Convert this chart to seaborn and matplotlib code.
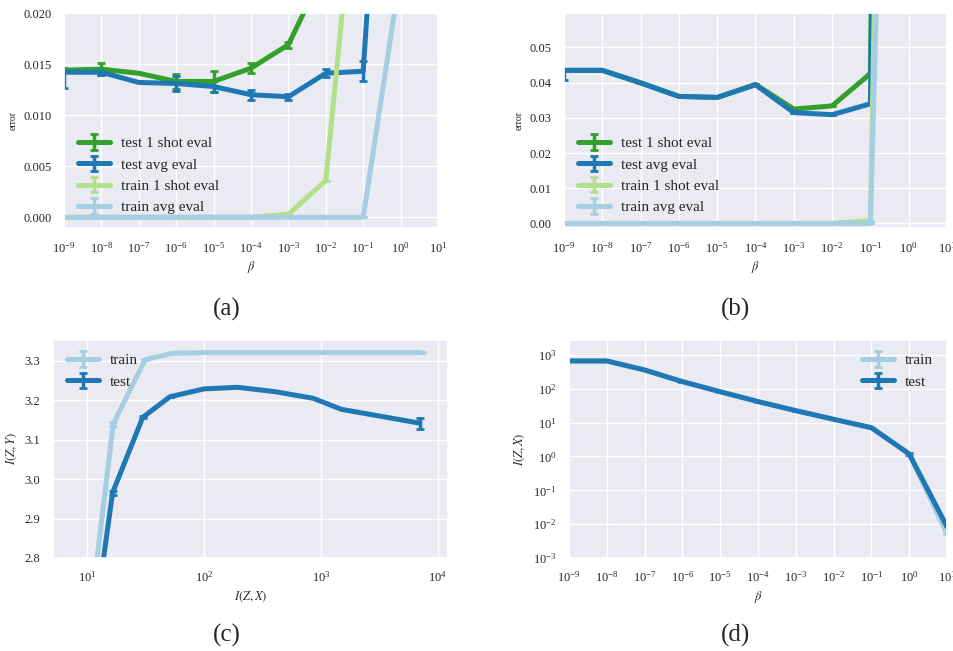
import numpy as np
import pandas as pd
import seaborn as sns
import matplotlib
matplotlib.use("Agg")
import matplotlib.pyplot as plt
from matplotlib.ticker import LogLocator, NullLocator, MultipleLocator, FormatStrFormatter

# ---------------- data ----------------
beta = [1e-9, 1e-8, 1e-7, 1e-6, 1e-5, 1e-4, 1e-3, 1e-2, 1e-1, 1e0, 1e1]

# panel (a)
a_test1 = [0.0144, 0.0145, 0.0141, 0.0133, 0.0133, 0.0146, 0.0169, 0.0245, 0.060, 0.50, 0.90]
a_test1_err = [0.0, 0.0006, 0.0, 0.0007, 0.0010, 0.0005, 0.0003, 0.0, 0.0, 0.0, 0.0]
a_testavg = [0.0142, 0.0142, 0.0132, 0.0131, 0.0128, 0.0120, 0.0118, 0.0141, 0.0143, 0.070, 0.90]
a_testavg_lo = [0.0015, 0.0003, 0.0, 0.0007, 0.0005, 0.0005, 0.0003, 0.0004, 0.0010, 0.0, 0.0]
a_testavg_hi = [0.0004, 0.0003, 0.0, 0.0007, 0.0005, 0.0005, 0.0003, 0.0004, 0.0010, 0.0, 0.0]
a_train1 = [0.0, 0.0, 0.0, 0.0, 0.0, 0.0, 0.0003, 0.0036, 0.041, 0.50, 0.90]
a_trainavg = [0.0, 0.0, 0.0, 0.0, 0.0, 0.0, 0.0, 0.0, 0.0, 0.024, 0.90]
zero11 = [0.0] * 11

# panel (b)
b_test1 = [0.0435, 0.0435, 0.0400, 0.0361, 0.0358, 0.0395, 0.0325, 0.0334, 0.0426, 0.90, 0.90]
b_testavg = [0.0435, 0.0435, 0.0399, 0.0361, 0.0358, 0.0394, 0.0315, 0.0309, 0.0340, 0.90, 0.90]
b_testavg_lo = [0.0026, 0.0, 0.0, 0.0, 0.0, 0.0, 0.0, 0.0, 0.0, 0.0, 0.0]
b_testavg_hi = [0.0002, 0.0, 0.0, 0.0, 0.0, 0.0, 0.0, 0.0, 0.0, 0.0, 0.0]
b_train1 = [0.0, 0.0, 0.0, 0.0, 0.0, 0.0, 0.0, 0.0, 0.0008, 0.60, 0.90]
b_trainavg = [0.0, 0.0, 0.0, 0.0, 0.0, 0.0, 0.0, 0.0, 0.0, 0.40, 0.90]

# panel (c)
c_train_x = [10, 16.7, 31.3, 53, 100, 193, 404, 860, 1500, 7250]
c_train_y = [2.59, 3.14, 3.303, 3.319, 3.321, 3.321, 3.321, 3.321, 3.321, 3.321]
c_train_err = [0.0, 0.004, 0.002, 0.0, 0.0, 0.0, 0.0, 0.0, 0.0, 0.002]
c_test_x = [10, 16.5, 29.9, 51, 100, 193, 404, 860, 1500, 7000]
c_test_y = [2.50, 2.966, 3.157, 3.209, 3.229, 3.233, 3.222, 3.205, 3.177, 3.142]
c_test_err = [0.0, 0.005, 0.003, 0.0, 0.0, 0.0, 0.0, 0.0, 0.0, 0.014]

# panel (d)
d_train = [665, 665, 360, 163, 82, 42, 22.6, 12.6, 7.1, 1.19, 0.0051]
d_test = [665, 665, 360, 163, 82, 42, 22.6, 12.6, 7.1, 1.19, 0.0084]
d_test_err = [0, 0, 0, 0, 0, 0, 0, 0, 0, 0.1, 0.001]

# ---------------- style ----------------
sns.set_theme(style="darkgrid")
plt.rcParams["font.family"] = ["Liberation Serif", "DejaVu Serif"]
plt.rcParams["mathtext.fontset"] = "stix"

pal = sns.color_palette("Paired")
c_lblue, c_dblue, c_lgreen, c_dgreen = pal[0], pal[1], pal[2], pal[3]

fig = plt.figure(figsize=(9.54, 6.51), dpi=100)


def px_axes(l, t, r, b):
    return fig.add_axes([l / 954, 1 - b / 651, (r - l) / 954, (b - t) / 651])


axA = px_axes(64, 13, 438, 228)
axB = px_axes(564, 13, 947, 228)
axC = px_axes(53, 340, 448, 558)
axD = px_axes(569, 340, 947, 558)

LW = 3.6
EKW = dict(elinewidth=2.5, capsize=3, capthick=2)


def eb(ax, x, y, err, color, label):
    ax.errorbar(x, y, yerr=err, color=color, lw=LW, label=label, **EKW)


def log_x(ax):
    ax.set_xscale("log")
    ax.xaxis.set_major_locator(LogLocator(base=10, numticks=30))
    ax.xaxis.set_minor_locator(NullLocator())


TICK = 9
LAB = 9
LEG = 11
LEGKW = dict(fontsize=LEG, frameon=False, handlelength=2.1, handletextpad=0.7)

# (a)
eb(axA, beta, a_test1, a_test1_err, c_dgreen, "test 1 shot eval")
eb(axA, beta, a_testavg, [a_testavg_lo, a_testavg_hi], c_dblue, "test avg eval")
eb(axA, beta, a_train1, zero11, c_lgreen, "train 1 shot eval")
eb(axA, beta, a_trainavg, zero11, c_lblue, "train avg eval")
log_x(axA)
axA.set_xlim(1e-9, 1e1)
axA.set_ylim(-0.00105, 0.020)
axA.yaxis.set_major_locator(MultipleLocator(0.005))
axA.yaxis.set_major_formatter(FormatStrFormatter("%.3f"))
axA.set_xlabel(r"$\beta$", fontsize=LAB, labelpad=3)
axA.set_ylabel("error", fontsize=7)
axA.legend(loc="lower left", **LEGKW)

# (b)
eb(axB, beta, b_test1, zero11, c_dgreen, "test 1 shot eval")
eb(axB, beta, b_testavg, [b_testavg_lo, b_testavg_hi], c_dblue, "test avg eval")
eb(axB, beta, b_train1, zero11, c_lgreen, "train 1 shot eval")
eb(axB, beta, b_trainavg, zero11, c_lblue, "train avg eval")
log_x(axB)
axB.set_xlim(1e-9, 1e1)
axB.set_ylim(-0.0013, 0.0598)
axB.yaxis.set_major_locator(MultipleLocator(0.01))
axB.yaxis.set_major_formatter(FormatStrFormatter("%.2f"))
axB.set_xlabel(r"$\beta$", fontsize=LAB, labelpad=3)
axB.set_ylabel("error", fontsize=7)
axB.legend(loc="lower left", **LEGKW)

# (c)
eb(axC, c_train_x, c_train_y, c_train_err, c_lblue, "train")
eb(axC, c_test_x, c_test_y, c_test_err, c_dblue, "test")
log_x(axC)
axC.set_xlim(5.1, 12200)
axC.set_ylim(2.8, 3.353)
axC.yaxis.set_major_locator(MultipleLocator(0.1))
axC.yaxis.set_major_formatter(FormatStrFormatter("%.1f"))
axC.set_xlabel(r"$I(Z,X)$", fontsize=LAB, labelpad=3)
axC.set_ylabel(r"$I(Z,Y)$", fontsize=LAB)
axC.legend(loc="upper left", **LEGKW)

# (d)
eb(axD, beta, d_train, zero11, c_lblue, "train")
eb(axD, beta, d_test, d_test_err, c_dblue, "test")
log_x(axD)
axD.set_yscale("log")
axD.yaxis.set_major_locator(LogLocator(base=10, numticks=30))
axD.yaxis.set_minor_locator(NullLocator())
axD.set_xlim(1e-9, 1e1)
axD.set_ylim(1e-3, 2770)
axD.set_xlabel(r"$\beta$", fontsize=LAB, labelpad=3)
axD.set_ylabel(r"$I(Z,X)$", fontsize=LAB)
axD.legend(loc="upper right", **LEGKW)

for ax in (axA, axB, axC, axD):
    ax.tick_params(labelsize=TICK, pad=3)

fig.text(227 / 954, 1 - 309 / 651, "(a)", ha="center", va="center", fontsize=18)
fig.text(735 / 954, 1 - 309 / 651, "(b)", ha="center", va="center", fontsize=18)
fig.text(227 / 954, 1 - 635 / 651, "(c)", ha="center", va="center", fontsize=18)
fig.text(735 / 954, 1 - 635 / 651, "(d)", ha="center", va="center", fontsize=18)

fig.savefig("out.png", dpi=100)
